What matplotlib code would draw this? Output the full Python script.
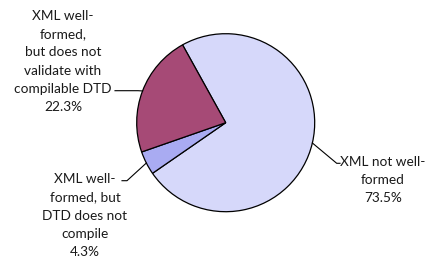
import numpy as np
import matplotlib
matplotlib.use("Agg")
import matplotlib.pyplot as plt

# shares of the sample, drawn clockwise
labels = ["XML not well-\nformed", "XML well-\nformed, but\nDTD does not\ncompile",
          "XML well-\nformed,\nbut does not\nvalidate with\ncompilable DTD"]
values = [73.5, 4.3, 22.3]
colors = ["#D6D8FA", "#A9ABF2", "#A64A76"]

plt.rcParams['font.family'] = ['Lato', 'DejaVu Sans']

W, H = 432, 263
fig = plt.figure(figsize=(W / 100, H / 100), dpi=100)
ax = fig.add_axes([0, 0, 1, 1])

cx, cy, r = 225.7, H - 122.7, 89
wedges, _ = ax.pie(values, colors=colors, startangle=119, counterclock=False,
                   center=(cx, cy), radius=r, frame=True,
                   wedgeprops=dict(edgecolor='black', linewidth=0.9))
ax.set_xlim(0, W)
ax.set_ylim(0, H)
ax.set_aspect('equal')
ax.axis('off')

# label text position and leader elbow (pixels, y down)
text_pos = [(383, 180), (85, 215.5), (63, 61.5)]
elbow = [(336.7, 163.3), (127, 180.7), (138, 90.7)]
elbow_end = [(340, 163.3), (122, 180.7), (115, 90.7)]

for w, v, lab, tp, el, ee in zip(wedges, values, labels, text_pos, elbow, elbow_end):
    mid = np.deg2rad((w.theta1 + w.theta2) / 2)
    ax_x = cx + r * np.cos(mid)
    ax_y = cy + r * np.sin(mid)
    ax.plot([ax_x, el[0], ee[0]], [ax_y, H - el[1], H - ee[1]], color='black', lw=0.8)
    ax.text(tp[0], H - tp[1], f"{lab}\n{v:.1f}%", ha='center', va='center',
            fontsize=9.8, color='#1a1a1a', linespacing=1.62)

fig.savefig("out.png", dpi=100)
